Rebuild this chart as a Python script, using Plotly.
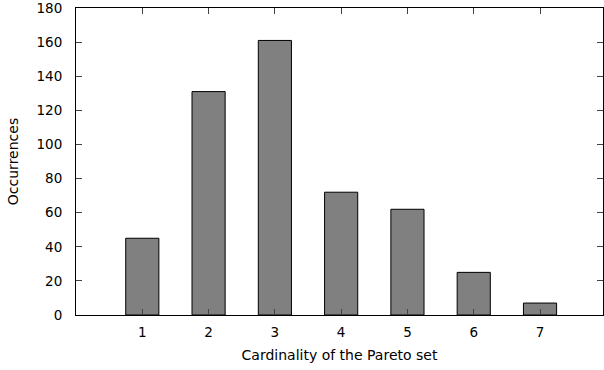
import plotly.graph_objects as go

cardinality = [1, 2, 3, 4, 5, 6, 7]
occurrences = [45, 131, 161, 72, 62, 25, 7]
x_ticks = [1, 2, 3, 4, 5, 6, 7]
y_ticks = [0, 20, 40, 60, 80, 100, 120, 140, 160, 180]

fig = go.Figure(go.Bar(
    x=cardinality, y=occurrences, width=0.5,
    marker=dict(color="#808080", line=dict(color="black", width=1)),
))

font = dict(family="DejaVu Sans", size=14, color="black")
tickfont = dict(family="DejaVu Sans", size=13.5, color="black")
fig.update_layout(
    width=604, height=370,
    margin=dict(l=76, r=0, t=6, b=55),
    paper_bgcolor="white", plot_bgcolor="white",
    font=font, showlegend=False,
    xaxis=dict(range=[0, 7.95], tickvals=x_ticks, ticks="inside", ticklen=6,
               showline=True, linecolor="black", linewidth=1, mirror="ticks",
               showgrid=False, zeroline=False, ticklabelstandoff=5,
               tickfont=tickfont, ticklabeloverflow="allow",
               title=dict(text="Cardinality of the Pareto set", standoff=10, font=font)),
    yaxis=dict(range=[0, 180.02], tickvals=y_ticks, ticks="inside", ticklen=6,
               showline=True, linecolor="black", linewidth=1, mirror="ticks",
               showgrid=False, zeroline=False, ticklabelstandoff=10,
               tickfont=tickfont, ticklabeloverflow="allow",
               title=dict(text="Occurrences", standoff=14, font=font)),
)
fig.write_html("out.html")
